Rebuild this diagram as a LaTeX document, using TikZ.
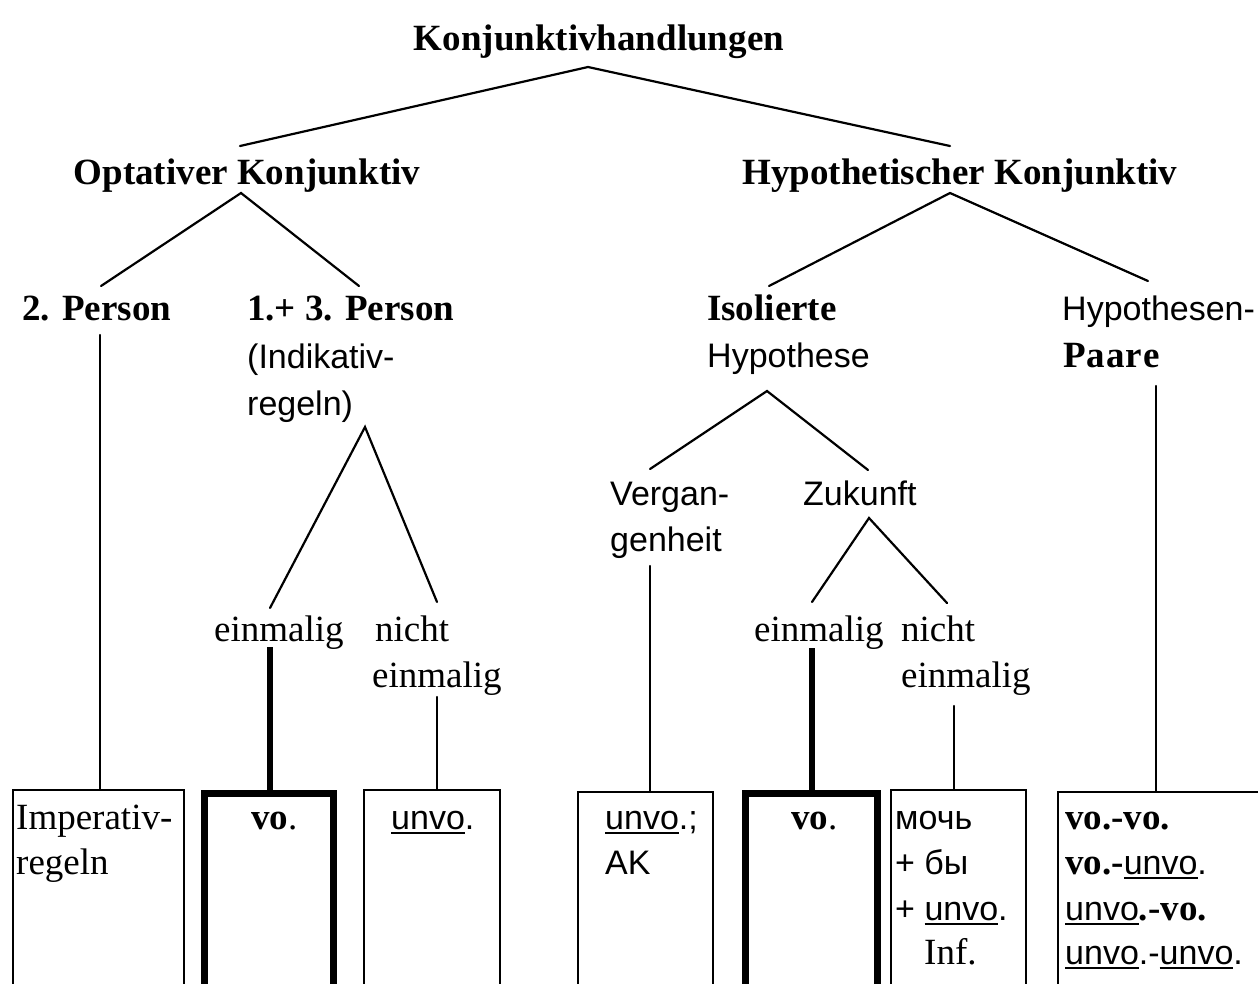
\documentclass[tikz,border=0pt]{standalone}
\usepackage{fontspec}
\setmainfont{Liberation Serif}
\newfontfamily\sansf{Liberation Sans}
\newcommand\unl[1]{\setbox0\hbox{#1}\rlap{\rule[-5pt]{\wd0}{1.8pt}}\box0}
\tikzset{
  lbl/.style={inner sep=0pt, anchor=base west, font=\fontsize{37}{46}\selectfont},
  blbl/.style={lbl, font=\fontsize{37}{46}\selectfont\bfseries},
  slbl/.style={lbl, font=\sansf\fontsize{34}{46}\selectfont},
  conn/.style={line width=2.2pt, line cap=round},
  thickconn/.style={line width=6.5pt},
  thinbox/.style={draw, line width=2pt, inner sep=0pt, anchor=north west},
  thickbox/.style={draw, line width=7pt, inner sep=0pt, anchor=north west},
}
\begin{document}
\begin{tikzpicture}[x=1pt,y=-1pt]
\useasboundingbox (0,0) rectangle (1258,983);
\clip (0,0) rectangle (1258,983);
\fill[white] (0,0) rectangle (1258,983);

% ---- labels
\node[blbl, anchor=base] (t0) at (599,50) {Konjunktivhandlungen};
\node[blbl, anchor=base] (opt) at (247,184) {Optativer Konjunktiv};
\node[blbl, anchor=base] (hyp) at (960,184) {Hypothetischer Konjunktiv};
\node[blbl] (p2) at (22,320) {2. Person};
\node[blbl] (p13) at (247,320) {1.+ 3. Person};
\node[slbl] (ind1) at (247,368) {(Indikativ-};
\node[slbl] (ind2) at (247,415) {regeln)};
\node[blbl] (iso1) at (707,320) {Isolierte};
\node[slbl] (iso2) at (707,367) {Hypothese};
\node[slbl] (hp1) at (1062,320) {Hypothesen-};
\node[blbl] (hp2) at (1063,367) {P\kern1pt a\kern1pt a\kern1pt r\kern1pt e};
\node[slbl] (ver1) at (610,505) {Vergan-};
\node[slbl] (ver2) at (610,551) {genheit};
\node[slbl] (zuk) at (803,505) {Zukunft};
\node[lbl] (e1) at (214,641) {einmalig};
\node[lbl] (n1) at (375,641) {nicht};
\node[lbl] (n1b) at (372,687) {einmalig};
\node[lbl] (e2) at (754,641) {einmalig};
\node[lbl] (n2) at (901,641) {nicht};
\node[lbl] (n2b) at (901,687) {einmalig};

% ---- boxes
\node[thinbox, minimum width=171pt, minimum height=195pt] (b1) at (12,789) {};
\node[thickbox, minimum width=129pt, minimum height=195pt] (b2) at (200.5,789.5) {};
\node[thinbox, minimum width=136pt, minimum height=195pt] (b3) at (363,789) {};
\node[thinbox, minimum width=135pt, minimum height=195pt] (b4) at (577,791) {};
\node[thickbox, minimum width=132pt, minimum height=195pt] (b5) at (741.5,789.5) {};
\node[thinbox, minimum width=135pt, minimum height=195pt] (b6) at (890,789) {};
\node[thinbox, minimum width=213pt, minimum height=195pt] (b7) at (1057,791) {};

% ---- box texts
\node[lbl] (x1a) at (16,829) {Imperativ-};
\node[lbl] (x1b) at (16,874) {regeln};
\node[lbl] (x2) at (251,829) {\textbf{vo}.};
\node[slbl] (x3) at (391,829) {\unl{unvo}.};
\node[slbl] (x4a) at (605,829) {\unl{unvo}.;};
\node[slbl] (x4b) at (605,874) {AK};
\node[lbl] (x5) at (791,829) {\textbf{vo}.};
\node[slbl] (x6a) at (895,829) {мочь};
\node[slbl] (x6b) at (895,874) {+ бы};
\node[slbl] (x6c) at (895,920) {+ \unl{unvo}.};
\node[lbl] (x6d) at (924,964) {Inf.};
\node[lbl] (x7a) at (1065,829) {\textbf{vo.-vo.}};
\node[lbl] (x7b) at (1065,874) {\textbf{vo.-}{\sansf\fontsize{34}{46}\selectfont\unl{unvo}.}};
\node[lbl] (x7c) at (1065,920) {{\sansf\fontsize{34}{46}\selectfont\unl{unvo}}\textbf{.-vo.}};
\node[slbl] (x7d) at (1065,964) {\unl{unvo}.-\unl{unvo}.};

% ---- connector coordinates
\coordinate (a0) at (588,67);
\coordinate (a0l) at (240,146);
\coordinate (a0r) at (950,146);
\coordinate (a1) at (241,193);
\coordinate (a1l) at (101,286);
\coordinate (a1r) at (359,286);
\coordinate (a2) at (950,193);
\coordinate (a2l) at (769,286);
\coordinate (a2r) at (1148,281);
\coordinate (c1) at (100,335);
\coordinate (a3) at (365,427);
\coordinate (a3l) at (270,608);
\coordinate (a3r) at (437,602);
\coordinate (a4) at (767,391);
\coordinate (a4l) at (650,469);
\coordinate (a4r) at (868,470);
\coordinate (c4) at (650,566);
\coordinate (a5) at (869,518);
\coordinate (a5l) at (812,602);
\coordinate (a5r) at (947,603);
\coordinate (c7) at (1156,386);
\coordinate (c2) at (270,647);
\coordinate (c3) at (437,697);
\coordinate (c5) at (812,648);
\coordinate (c6) at (954,706);

% ---- connectors
\draw[conn] (a0l) -- (a0) -- (a0r);
\draw[conn] (a1l) -- (a1) -- (a1r);
\draw[conn] (a2l) -- (a2) -- (a2r);
\draw[conn] (a3l) -- (a3) -- (a3r);
\draw[conn] (a4l) -- (a4) -- (a4r);
\draw[conn] (a5l) -- (a5) -- (a5r);
\draw[conn] (c1) -- (c1 |- b1.north);
\draw[conn] (c3) -- (c3 |- b3.north);
\draw[conn] (c4) -- (c4 |- b4.north);
\draw[conn] (c6) -- (c6 |- b6.north);
\draw[conn] (c7) -- (c7 |- b7.north);
\draw[thickconn] (c2) -- (c2 |- b2.north);
\draw[thickconn] (c5) -- (c5 |- b5.north);
\end{tikzpicture}
\end{document}
